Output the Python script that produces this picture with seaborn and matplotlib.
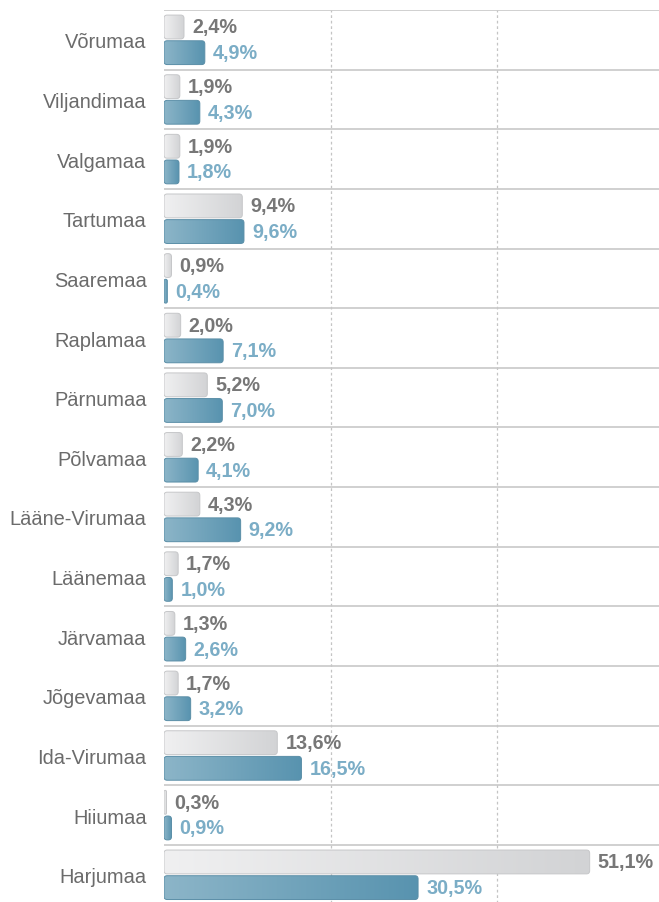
import numpy as np
import pandas as pd
import matplotlib
matplotlib.use("Agg")
import matplotlib.pyplot as plt
import matplotlib.transforms as mtransforms
from matplotlib.patches import FancyBboxPatch
from matplotlib.colors import LinearSegmentedColormap
import seaborn as sns

# ---- data ----
regions = ["Võrumaa", "Viljandimaa", "Valgamaa", "Tartumaa", "Saaremaa",
           "Raplamaa", "Pärnumaa", "Põlvamaa", "Lääne-Virumaa", "Läänemaa",
           "Järvamaa", "Jõgevamaa", "Ida-Virumaa", "Hiiumaa", "Harjumaa"]
share_gray = [2.4, 1.9, 1.9, 9.4, 0.9, 2.0, 5.2, 2.2, 4.3, 1.7, 1.3, 1.7, 13.6, 0.3, 51.1]
share_blue = [4.9, 4.3, 1.8, 9.6, 0.4, 7.1, 7.0, 4.1, 9.2, 1.0, 2.6, 3.2, 16.5, 0.9, 30.5]
series = ["gray", "blue"]
grid_x = [20, 40]

sns.set_theme(style="white")
plt.rcParams["font.family"] = ["Liberation Sans", "DejaVu Sans"]

W, H = 659, 903
fig = plt.figure(figsize=(W / 100, H / 100), dpi=100)
row_px = 59.64
top_px = 11
ax_h = row_px * len(regions)
ax = fig.add_axes([164 / W, (H - top_px - ax_h) / H, (W - 164) / W, ax_h / H])

df = pd.DataFrame({
    "region": regions * 2,
    "value": share_gray + share_blue,
    "series": [series[0]] * len(regions) + [series[1]] * len(regions),
})

sns.barplot(data=df, y="region", x="value", hue="series", orient="h",
            dodge=True, width=0.86, gap=0.07, errorbar=None, legend=False,
            palette=["#e2e3e4", "#74a6bd"], ax=ax)

xmax = (W - 164) / 8.33
ax.set_xlim(0, xmax)
ax.set_ylim(len(regions) - 0.5, -0.5)

# grid / separators
for gx in grid_x:
    ax.axvline(gx, color="#c4c4c4", lw=0.9, ls=(0, (2.2, 2.2)), zorder=0.5)
for i in range(len(regions)):
    ax.axhline(i - 0.5, color="#c8c8c8", lw=1.2, zorder=0.6)

# styled bars
px_per_x = (W - 164) / xmax
asp = px_per_x / row_px
rad_x = 3.2 / px_per_x
styles = {
    0: dict(c0="#f0f0f1", c1="#d2d3d5", edge="#c6c7c9", txt="#777777"),
    1: dict(c0="#8cb5c8", c1="#5893af", edge="#5a8ea7", txt="#7badc6"),
}
grad = np.linspace(0, 1, 256).reshape(1, -1)
for k, cont in enumerate(ax.containers):
    st = styles[k]
    cmap = LinearSegmentedColormap.from_list(f"g{k}", [st["c0"], st["c1"]])
    vals = share_gray if k == 0 else share_blue
    for p, v in zip(cont.patches, vals):
        x, y, w, h = p.get_x(), p.get_y(), p.get_width(), p.get_height()
        p.set_visible(False)
        r = min(rad_x, w / 2)
        fb = FancyBboxPatch((x, y), w, h,
                            boxstyle=f"round,pad=0,rounding_size={r}",
                            mutation_aspect=asp,
                            facecolor="none", edgecolor=st["edge"], lw=0.7, zorder=3)
        ax.add_patch(fb)
        im = ax.imshow(grad, extent=(x, x + w, y + h, y), cmap=cmap,
                       aspect="auto", interpolation="bilinear", zorder=2)
        im.set_clip_path(fb)
        tr = mtransforms.offset_copy(ax.transData, fig=fig, x=8, y=0, units="dots")
        ax.text(x + w, y + h / 2, f"{v:.1f}".replace(".", ",") + "%",
                transform=tr, ha="left", va="center", fontsize=14.2,
                fontweight="bold", color=st["txt"], zorder=4)

ax.set_xlim(0, xmax)
ax.set_ylim(len(regions) - 0.5, -0.5)
ax.set_xlabel("")
ax.set_ylabel("")
ax.set_xticks([])
ax.tick_params(axis="y", length=0, pad=12.5, labelsize=14.4, labelcolor="#6b6b6b")
for s in ax.spines.values():
    s.set_visible(False)

fig.savefig("out.png", dpi=100)
